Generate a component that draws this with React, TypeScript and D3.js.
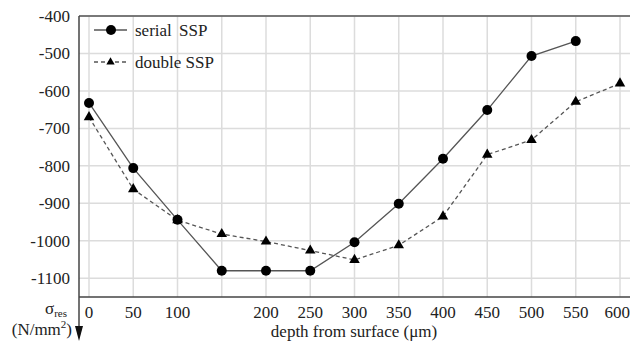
import React from "react";
import * as d3 from "d3";

const depths = [0, 50, 100, 150, 200, 250, 300, 350, 400, 450, 500, 550, 600];
const serialSSP = [-632, -806, -944, -1080, -1080, -1080, -1004, -901, -781, -651, -507, -467, null];
const doubleSSP = [-670, -862, -945, -982, -1002, -1026, -1051, -1012, -935, -770, -731, -629, -580];
const yTicks = [-400, -500, -600, -700, -800, -900, -1000, -1100];
const xTickLabels = [0, 50, 100, 200, 250, 300, 350, 400, 450, 500, 550, 600];
const seriesNames = ["serial SSP", "double SSP"];

const W = 630, H = 342;
const FONT = "Liberation Serif";

export default function App() {
  const x = d3.scaleLinear().domain([0, 600]).range([89, 620]);
  const y = d3.scaleLinear().domain([-1150, -400]).range([297, 16]);
  const left = 79, top = 16, bottom = 297, right = W;

  const line = d3
    .line<[number, number | null]>()
    .defined((d) => d[1] !== null)
    .x((d) => x(d[0]))
    .y((d) => y(d[1] as number));

  const sPts = depths.map((d, i) => [d, serialSSP[i]] as [number, number | null]);
  const dPts = depths.map((d, i) => [d, doubleSSP[i]] as [number, number | null]);
  const tri = d3.symbol().type(d3.symbolTriangle).size(48)();
  const ts = { fontFamily: FONT };

  return (
    <svg width={W} height={H} style={{ position: "absolute", left: 0, top: 0, background: "#fff" }}>
      {/* grid */}
      {depths.map((d) => (
        <line key={"gx" + d} x1={x(d)} x2={x(d)} y1={top} y2={bottom} stroke="#dcdcdc" strokeWidth={1.5} />
      ))}
      {yTicks.map((t) => (
        <line key={"gy" + t} x1={left} x2={right} y1={y(t)} y2={y(t)} stroke="#dcdcdc" strokeWidth={1.5} />
      ))}
      {/* frame */}
      <line x1={left} x2={right} y1={top} y2={top} stroke="#555" strokeWidth={1.5} />
      <line x1={left} x2={right} y1={bottom} y2={bottom} stroke="#444" strokeWidth={1.5} />
      <line x1={left} x2={left} y1={top} y2={327} stroke="#444" strokeWidth={1.5} />
      <path d={`M${left - 4},326 L${left + 4},326 L${left},341 Z`} fill="#111" />
      {/* y tick labels */}
      {yTicks.map((t) => (
        <text key={"ty" + t} style={ts} x={70} y={y(t)} dy="0.35em" textAnchor="end" fontSize={17} fill="#222">
          {t}
        </text>
      ))}
      {/* x tick labels */}
      {xTickLabels.map((t) => (
        <text key={"tx" + t} style={ts} x={t === 600 ? 630 : x(t)} y={318} textAnchor={t === 600 ? "end" : "middle"} fontSize={17} fill="#222">
          {t}
        </text>
      ))}
      <text style={ts} x={354} y={337} textAnchor="middle" fontSize={17} fill="#222">depth from surface (μm)</text>
      <text style={ts} x={45} y={314} fontSize={17} fill="#222">
        σ<tspan fontSize={11} dy={3}>res</tspan>
      </text>
      <text style={ts} x={72} y={335} textAnchor="end" fontSize={17} fill="#222">
        (N/mm<tspan fontSize={11} dy={-7}>2</tspan><tspan dy={7}>)</tspan>
      </text>
      {/* lines */}
      <path d={line(dPts) || ""} fill="none" stroke="#555" strokeWidth={1.3} strokeDasharray="4,3" />
      <path d={line(sPts) || ""} fill="none" stroke="#555" strokeWidth={1.3} />
      {dPts.map((p, i) =>
        p[1] === null ? null : (
          <path key={"dt" + i} d={tri || ""} transform={`translate(${x(p[0])},${y(p[1] as number)})`} fill="#000" />
        )
      )}
      {sPts.map((p, i) =>
        p[1] === null ? null : <circle key={"sc" + i} cx={x(p[0])} cy={y(p[1] as number)} r={5} fill="#000" />
      )}
      {/* legend */}
      <line x1={94} x2={127} y1={30} y2={30} stroke="#555" strokeWidth={1.3} />
      <circle cx={111} cy={30} r={5} fill="#000" />
      <text style={ts} x={135} y={30} dy="0.35em" fontSize={17} fill="#222" wordSpacing={3}>{seriesNames[0]}</text>
      <line x1={94} x2={127} y1={62} y2={62} stroke="#555" strokeWidth={1.3} strokeDasharray="4,3" />
      <path d={d3.symbol().type(d3.symbolTriangle).size(30)() || ""} transform="translate(110.5,62)" fill="#000" />
      <text style={ts} x={135} y={62} dy="0.35em" fontSize={17} fill="#222">{seriesNames[1]}</text>
    </svg>
  );
}
